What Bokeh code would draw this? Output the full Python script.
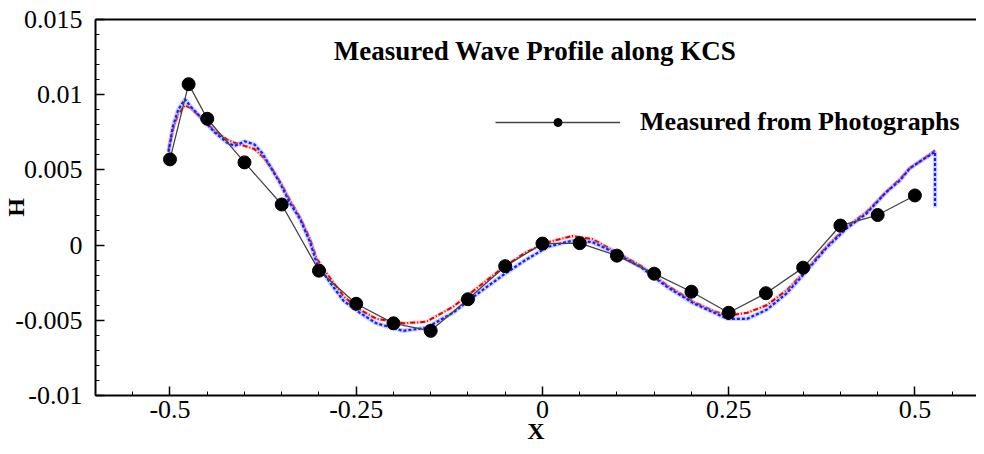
from bokeh.plotting import figure
from bokeh.models import (Range1d, LinearAxis, Label, Legend, LegendItem,
                          FixedTicker)
from bokeh.embed import file_html
from bokeh.resources import INLINE

# ---------------- data ----------------
meas_x = [-0.5, -0.475, -0.45, -0.4, -0.35, -0.3, -0.25, -0.2, -0.15, -0.1, -0.05,
          0.0, 0.05, 0.1, 0.15, 0.2, 0.25, 0.3, 0.35, 0.4, 0.45, 0.5]
meas_h = [0.0057, 0.0107, 0.0084, 0.0055, 0.0027, -0.0017, -0.0039, -0.0052, -0.0057,
          -0.0036, -0.0014, 0.0001, 0.00013, -0.0007, -0.0019, -0.0031, -0.0045,
          -0.0032, -0.0015, 0.0013, 0.0020, 0.0033]

cfd_x = [-0.502, -0.496, -0.489, -0.48, -0.472, -0.459, -0.44, -0.423, -0.413, -0.4,
         -0.387, -0.376, -0.365, -0.352, -0.339, -0.325, -0.312, -0.303, -0.285, -0.267,
         -0.245, -0.223, -0.187, -0.156, -0.12, -0.089, -0.053, -0.023, 0.008, 0.04,
         0.067, 0.097, 0.133, 0.168, 0.204, 0.231, 0.248, 0.275, 0.301, 0.328,
         0.355, 0.381, 0.408, 0.435, 0.461, 0.48, 0.493, 0.511, 0.527]
red_h = [0.0063, 0.0077, 0.0087, 0.0093, 0.0091, 0.0085, 0.0076, 0.0070, 0.0068, 0.0066,
         0.0064, 0.0059, 0.0052, 0.0042, 0.0030, 0.0018, 0.0004, -0.0009, -0.0022, -0.0034,
         -0.0043, -0.0049, -0.0052, -0.0051, -0.0041, -0.0029, -0.0015, -0.0005, 0.0002, 0.0006,
         0.0004, -0.0004, -0.0014, -0.0027, -0.0038, -0.0044, -0.0047, -0.0045, -0.0040, -0.0030,
         -0.0016, -0.0001, 0.0012, 0.0022, 0.0035, 0.0044, 0.0051, 0.0057, 0.0063]
blue_x = cfd_x + [0.527]
blue_h = [0.0062, 0.0079, 0.0090, 0.0097, 0.0092, 0.0085, 0.0075, 0.0068, 0.0066, 0.0069,
          0.0067, 0.0061, 0.0052, 0.0041, 0.0028, 0.0017, 0.0002, -0.0012, -0.0025, -0.0037,
          -0.0045, -0.0052, -0.0057, -0.0055, -0.0045, -0.0033, -0.0020, -0.0010, -0.0001, 0.0003,
          0.0002, -0.0005, -0.0015, -0.0028, -0.0039, -0.0045, -0.0049, -0.0049, -0.0043, -0.0032,
          -0.0017, -0.0002, 0.0011, 0.0021, 0.0035, 0.0043, 0.0051, 0.0057, 0.0062, 0.0025]

x_ticks = [-0.5, -0.25, 0.0, 0.25, 0.5]
x_tick_labels = ["-0.5", "-0.25", "0", "0.25", "0.5"]
y_ticks = [-0.01, -0.005, 0.0, 0.005, 0.01, 0.015]
y_tick_labels = ["-0.01", "-0.005", "0", "0.005", "0.01", "0.015"]

title_text = "Measured Wave Profile along KCS"
legend_text = "Measured from Photographs"

SERIF = "Liberation Serif"

# ---------------- figure ----------------
p = figure(width=976, height=446, output_backend="svg", toolbar_location=None,
           x_range=Range1d(-0.6, 0.5827), y_range=Range1d(-0.01, 0.015),
           min_border_left=89, min_border_right=0, min_border_top=19,
           min_border_bottom=10)
p.outline_line_color = None
p.xgrid.grid_line_color = None
p.ygrid.grid_line_color = None
p.background_fill_color = "white"
p.border_fill_color = "white"

x_minor = [round(-0.6 + 0.05 * i, 3) for i in range(24)]
y_minor = [round(-0.01 + 0.001 * i, 4) for i in range(26)]

xa = p.xaxis[0]
xa.ticker = FixedTicker(ticks=x_ticks, minor_ticks=x_minor)
xa.major_label_overrides = {t: l for t, l in zip(x_ticks, x_tick_labels)}
ya = p.yaxis[0]
ya.ticker = FixedTicker(ticks=y_ticks, minor_ticks=y_minor)
ya.major_label_overrides = {t: l for t, l in zip(y_ticks, y_tick_labels)}

for ax in (xa, ya):
    ax.axis_line_width = 2
    ax.axis_line_color = "black"
    ax.major_tick_in = 9
    ax.major_tick_out = 0
    ax.minor_tick_in = 4
    ax.minor_tick_out = 0
    ax.major_tick_line_width = 1.5
    ax.minor_tick_line_width = 1
    ax.major_label_text_font = SERIF
    ax.major_label_text_font_size = "26px"
    ax.major_label_text_color = "black"
    ax.axis_label_text_font = SERIF
    ax.axis_label_text_font_style = "bold"
    ax.axis_label_text_font_size = "24px"
    ax.axis_label_text_color = "black"

xa.axis_label = "X"
xa.major_label_standoff = 5
xa.axis_label_standoff = -3
ya.axis_label = "H"
ya.major_label_standoff = 13
ya.axis_label_standoff = -17

top = LinearAxis(ticker=FixedTicker(ticks=[]), axis_line_width=2,
                 major_tick_in=0, major_tick_out=0, minor_tick_in=0, minor_tick_out=0,
                 major_label_text_font_size="0px")
p.add_layout(top, "above")

# CFD curves
p.line(cfd_x, red_h, line_color="#ff9999", line_width=3.5, line_alpha=0.5)
p.line(cfd_x, red_h, line_color="#dd0000", line_width=2, line_dash="5 2 1 2")
p.line(blue_x, blue_h, line_color="#8899ff", line_width=4.5, line_alpha=0.45)
p.line(blue_x, blue_h, line_color="#1a1aff", line_width=2.2, line_dash="3 2")

# measured
lr = p.line(meas_x, meas_h, line_color="#444444", line_width=1.3)
sr = p.scatter(meas_x, meas_h, size=13, fill_color="black", line_color="black")

legend = Legend(items=[LegendItem(label=legend_text, renderers=[lr, sr])],
                location=(400, 258), glyph_width=125, glyph_height=20,
                label_standoff=20, padding=0, margin=0, spacing=0,
                border_line_color=None, background_fill_alpha=0,
                label_text_font=SERIF, label_text_font_style="bold",
                label_text_font_size="26px", label_text_color="black")
p.add_layout(legend)

p.add_layout(Label(x=-0.01, y=0.0129, text=title_text, text_align="center",
                   text_baseline="middle", text_font=SERIF, text_font_style="bold",
                   text_font_size="27px", text_color="black"))

open("out.html", "w").write(file_html(p, INLINE))
